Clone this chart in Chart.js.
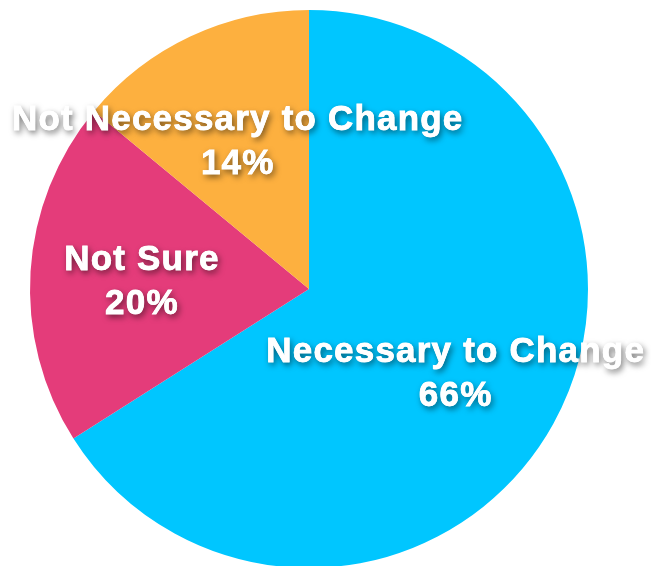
<!DOCTYPE html>
<html>
<head>
<meta charset="utf-8">
<script src="https://cdn.jsdelivr.net/npm/chart.js@4"></script>
<style>
  html, body { margin: 0; padding: 0; background: #fff; overflow: hidden; }
  #wrap { width: 651px; height: 566px; overflow: hidden; position: relative; }
  #pie { position: absolute; left: 0; top: 0; }
</style>
</head>
<body>
<div id="wrap"><canvas id="pie" width="651" height="600"></canvas></div>
<script>
const labels = ["Necessary to Change", "Not Sure", "Not Necessary to Change"];
const percents = [66, 20, 14];
const colors = ["#00C6FF", "#E43C7A", "#FDB03F"];

// white bold labels with a soft shadow, placed inside each slice
const sliceLabels = {
  id: "sliceLabels",
  afterDatasetsDraw(chart) {
    const ctx = chart.ctx;
    const arcs = chart.getDatasetMeta(0).data;
    ctx.save();
    ctx.font = "bold 35px 'Liberation Sans', Arial, sans-serif";
    if ("letterSpacing" in ctx) ctx.letterSpacing = "1.2px";
    ctx.textAlign = "center";
    ctx.textBaseline = "alphabetic";
    ctx.fillStyle = "#fff";
    ctx.strokeStyle = "#fff";
    ctx.lineWidth = 0.8;
    const spots = arcs.map((arc, i) => {
      const p = arc.getProps(["x", "y", "startAngle", "endAngle", "outerRadius"], true);
      const mid = (p.startAngle + p.endAngle) / 2;
      const r = p.outerRadius * 0.6;
      return { x: p.x + Math.cos(mid) * r, y: p.y + Math.sin(mid) * r, i };
    });
    // shadow pass, then a crisp pass on top
    ctx.shadowColor = "rgba(0,0,0,0.6)";
    ctx.shadowBlur = 6;
    ctx.shadowOffsetX = 2;
    ctx.shadowOffsetY = 3;
    spots.forEach(s => {
      ctx.fillText(labels[s.i], s.x, s.y - 8);
      ctx.fillText(percents[s.i] + "%", s.x, s.y + 36);
    });
    ctx.shadowColor = "transparent";
    spots.forEach(s => {
      ctx.strokeText(labels[s.i], s.x, s.y - 8);
      ctx.strokeText(percents[s.i] + "%", s.x, s.y + 36);
      ctx.fillText(labels[s.i], s.x, s.y - 8);
      ctx.fillText(percents[s.i] + "%", s.x, s.y + 36);
    });
    ctx.restore();
  }
};

new Chart(document.getElementById("pie"), {
  type: "pie",
  data: {
    labels: labels,
    datasets: [{ data: percents, backgroundColor: colors, borderWidth: 0 }]
  },
  options: {
    responsive: false,
    animation: false,
    layout: { padding: { left: 30, right: 63, top: 10, bottom: 32 } },
    plugins: { legend: { display: false }, tooltip: { enabled: false } }
  },
  plugins: [sliceLabels]
});
</script>
</body>
</html>
